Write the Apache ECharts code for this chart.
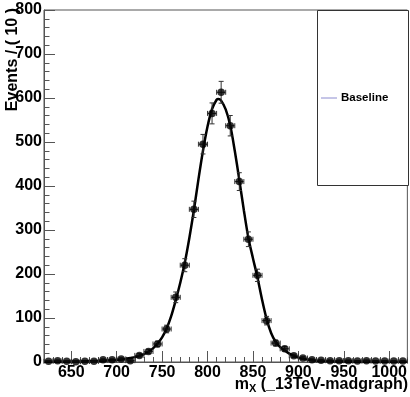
<!DOCTYPE html>
<html>
<head>
<meta charset="utf-8">
<script src="https://cdn.jsdelivr.net/npm/echarts@6/dist/echarts.min.js"></script>
<style>html,body{margin:0;padding:0;background:#fff}#c{width:410px;height:397px}</style>
</head>
<body>
<div id="c"></div>
<script>
// Bin centres (GeV) of the histogram
const binCenters = [625,635,645,655,665,675,685,695,705,715,725,735,745,755,765,775,785,795,805,815,825,835,845,855,865,875,885,895,905,915,925,935,945,955,965,975,985,995,1005,1015];
// Events per bin
const binValues = [1.5,3,1.5,0.5,1.5,1.5,5,5,7,3,15,24,41,75,147,220,347,495,565,613,537,410,279,197,94,43,30,14,9,5,4,3,3,3,2,3,2,2,2,2];
// Vertical error per bin
const binErrors = [1.2,1.7,1.2,0.7,1.2,1.2,2.2,2.2,2.6,1.7,3.9,4.9,6.4,8.7,12.1,14.8,18.6,22.2,23.8,24.8,23.2,20.2,16.7,14,9.7,6.6,5.5,3.7,3,2.2,2,1.7,1.7,1.7,1.4,1.7,1.4,1.4,1.4,1.4];
const binHalfWidth = 5;
// Fitted model curve
const fitX = [620,630,640,650,660,670,680,690,700,705,710,715,720,725,730,735,740,745,750,755,760,765,770,775,780,785,790,795,800,805,810,812,815,820,825,830,835,840,845,850,855,860,865,870,875,880,885,890,895,900,905,910,915,920,930,940,960,980,1000,1020];
const fitY = [0.3,0.5,0.7,1,1.3,1.8,2.5,3.5,4.5,5.5,7,9,11,14,18,23,31,42,56,76,104,140,180,226,282,345,415,480,535,575,596,598,594,574,538,480,414,345,282,236,192,142,98,66,46,34,26,19,14,10,7.5,5.5,4,3,2,1.3,0.8,0.5,0.3,0.2];
const xTitle = 'm';
const xTitleSub = 'X';
const xTitleRest = ' (_13TeV-madgraph)';
const yTitle = 'Events / ( 10 )';
const legendLabel = 'Baseline';

const FONT = "'Liberation Sans', Arial, sans-serif";
const chart = echarts.init(document.getElementById('c'), null, {renderer: 'canvas'});

const pts = binCenters.map((x, i) => [x, binValues[i], binErrors[i]]);
const curve = fitX.map((x, i) => [x, fitY[i]]);

function renderErr(params, api) {
  const x = api.value(0), y = api.value(1), e = api.value(2);
  const l = api.coord([x - binHalfWidth, y]);
  const r = api.coord([x + binHalfWidth, y]);
  const t = api.coord([x, y + e]);
  const b = api.coord([x, Math.max(y - e, 0)]);
  const st = {stroke: '#333', lineWidth: 1, fill: null};
  const cap = 2.5;
  return {
    type: 'group',
    children: [
      {type: 'line', shape: {x1: l[0], y1: l[1], x2: r[0], y2: r[1]}, style: st},
      {type: 'line', shape: {x1: l[0], y1: l[1] - cap, x2: l[0], y2: l[1] + cap}, style: st},
      {type: 'line', shape: {x1: r[0], y1: r[1] - cap, x2: r[0], y2: r[1] + cap}, style: st},
      {type: 'line', shape: {x1: t[0], y1: t[1], x2: b[0], y2: b[1]}, style: st},
      {type: 'line', shape: {x1: t[0] - cap, y1: t[1], x2: t[0] + cap, y2: t[1]}, style: st},
      {type: 'line', shape: {x1: b[0] - cap, y1: b[1], x2: b[0] + cap, y2: b[1]}, style: st}
    ]
  };
}

const labelStyle = {color: '#000', fontFamily: FONT, fontWeight: 'bold', fontSize: 16, formatter: v => String(v)};

chart.setOption({
  animation: false,
  backgroundColor: '#fff',
  grid: {left: 44, right: 2, top: 10, bottom: 35, show: true, borderColor: '#555', borderWidth: 1, backgroundColor: '#fff'},
  xAxis: [
    {
      type: 'value', position: 'bottom', min: 620, max: 1020, splitNumber: 8,
      axisLine: {show: true, onZero: false, lineStyle: {color: '#555', width: 1}},
      axisTick: {show: true, inside: true, length: 11, lineStyle: {color: '#555'}},
      axisLabel: Object.assign({margin: 3, showMinLabel: false, showMaxLabel: false}, labelStyle),
      splitLine: {show: false}
    },
    {
      type: 'value', position: 'bottom', min: 620, max: 1020, interval: 10,
      axisLine: {show: false, onZero: false},
      axisTick: {show: true, inside: true, length: 5, lineStyle: {color: '#555'}},
      axisLabel: {show: false},
      splitLine: {show: false}
    }
  ],
  yAxis: {
    type: 'value', min: 0, max: 800, interval: 100,
    axisLine: {show: true, lineStyle: {color: '#555', width: 1}},
    axisTick: {show: true, inside: true, length: 11, lineStyle: {color: '#555'}},
    minorTick: {show: true, splitNumber: 5, length: 5.5, lineStyle: {color: '#555'}},
    axisLabel: Object.assign({margin: 2}, labelStyle),
    splitLine: {show: false}
  },
  series: [
    {
      type: 'line', name: 'fit', xAxisIndex: 0, data: curve, smooth: 0.3, showSymbol: false,
      lineStyle: {color: '#000', width: 2.5}, z: 2, silent: true
    },
    {
      type: 'custom', xAxisIndex: 0, data: pts, renderItem: renderErr, z: 3, silent: true
    },
    {
      type: 'scatter', xAxisIndex: 0, data: pts.map(p => [p[0], p[1]]), symbol: 'circle', symbolSize: 7.5,
      itemStyle: {color: '#000'}, z: 4, silent: true
    }
  ],
  graphic: [
    {
      type: 'text', x: 408, y: 385, z: 10,
      style: {
        text: '{m|' + xTitle + '}{s|' + xTitleSub + '}{m|' + xTitleRest + '}',
        align: 'right', verticalAlign: 'middle',
        rich: {
          m: {fontFamily: FONT, fontWeight: 'bold', fontSize: 16, fill: '#000'},
          s: {fontFamily: FONT, fontWeight: 'bold', fontSize: 11, fill: '#000', padding: [8, 0, 0, 0]}
        }
      }
    },
    {
      type: 'text', x: 13, y: 8, rotation: Math.PI / 2, z: 10,
      style: {text: yTitle, align: 'right', verticalAlign: 'middle', fontFamily: FONT, fontWeight: 'bold', fontSize: 16, fill: '#000'}
    },
    {
      type: 'rect', shape: {x: 317.5, y: 10.5, width: 91, height: 175}, z: 20,
      style: {fill: '#fff', stroke: '#333', lineWidth: 1}
    },
    {
      type: 'line', shape: {x1: 321, y1: 98, x2: 337, y2: 98}, z: 21,
      style: {stroke: '#8c8cd0', lineWidth: 1}
    },
    {
      type: 'text', x: 341, y: 98, z: 21,
      style: {text: legendLabel, align: 'left', verticalAlign: 'middle', fontFamily: FONT, fontWeight: 'bold', fontSize: 11.5, fill: '#000'}
    }
  ]
});
</script>
</body>
</html>
